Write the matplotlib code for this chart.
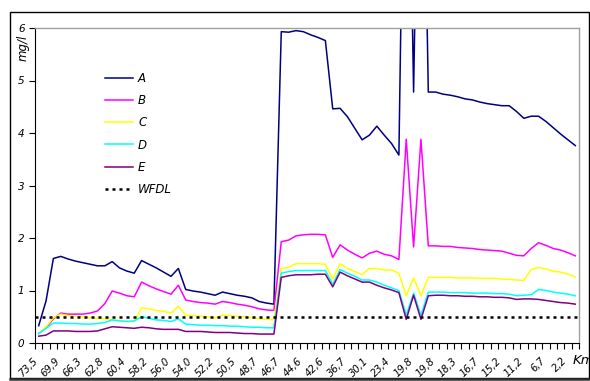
import matplotlib
matplotlib.use("Agg")
import matplotlib.pyplot as plt
from matplotlib.patches import Rectangle
from matplotlib.lines import Line2D
import matplotlib.transforms as mtransforms
import numpy as np

# ---- data ----
tick_labels = ["73,5", "69,9", "66,3", "62,8", "60,4", "58,2", "56,0", "54,0", "52,2",
               "50,5", "48,7", "46,7", "44,6", "42,6", "36,7", "30,1", "23,4", "19,8",
               "19,8", "18,3", "16,7", "15,2", "11,2", "6,7", "2,2"]

A = [0.33, 0.80, 1.61, 1.65, 1.60, 1.56, 1.53, 1.50, 1.47, 1.47, 1.55, 1.43, 1.37, 1.33,
     1.57, 1.50, 1.43, 1.35, 1.27, 1.42, 1.02, 0.99, 0.97, 0.94, 0.91, 0.97, 0.94, 0.91,
     0.89, 0.86, 0.79, 0.76, 0.74,
     5.93, 5.92, 5.95, 5.93, 5.87, 5.82, 5.76, 4.46, 4.47, 4.31, 4.09, 3.87, 3.96, 4.13,
     3.96, 3.80, 3.58, 13.0, 4.78, 13.0, 4.78, 4.78, 4.74, 4.72, 4.69, 4.65, 4.63, 4.59,
     4.56, 4.54, 4.52, 4.52, 4.41, 4.28, 4.32, 4.32, 4.22, 4.10, 3.98, 3.87, 3.76]

B = [0.18, 0.29, 0.46, 0.57, 0.55, 0.55, 0.55, 0.57, 0.61, 0.75, 0.99, 0.95, 0.90, 0.88,
     1.16, 1.09, 1.03, 0.98, 0.93, 1.10, 0.82, 0.79, 0.77, 0.76, 0.74, 0.79, 0.77, 0.74,
     0.72, 0.69, 0.65, 0.63, 0.62,
     1.93, 1.96, 2.04, 2.06, 2.07, 2.07, 2.06, 1.63, 1.87, 1.77, 1.69, 1.62, 1.71, 1.75,
     1.69, 1.66, 1.59, 3.88, 1.83, 3.88, 1.85, 1.85, 1.84, 1.84, 1.82, 1.81, 1.80, 1.78,
     1.77, 1.76, 1.75, 1.71, 1.67, 1.66, 1.80, 1.91, 1.86, 1.80, 1.77, 1.72, 1.66]

C = [0.18, 0.31, 0.48, 0.55, 0.52, 0.51, 0.50, 0.48, 0.47, 0.46, 0.44, 0.43, 0.41, 0.41,
     0.67, 0.65, 0.62, 0.60, 0.57, 0.70, 0.53, 0.52, 0.51, 0.50, 0.48, 0.53, 0.52, 0.51,
     0.50, 0.48, 0.46, 0.45, 0.44,
     1.42, 1.44, 1.51, 1.51, 1.51, 1.51, 1.50, 1.22, 1.51, 1.42, 1.36, 1.30, 1.42, 1.42,
     1.39, 1.39, 1.33, 0.90, 1.24, 0.90, 1.25, 1.25, 1.25, 1.25, 1.24, 1.24, 1.24, 1.23,
     1.23, 1.23, 1.22, 1.21, 1.20, 1.19, 1.40, 1.44, 1.41, 1.37, 1.35, 1.31, 1.26]

D = [0.18, 0.28, 0.38, 0.38, 0.37, 0.37, 0.36, 0.36, 0.37, 0.39, 0.44, 0.42, 0.41, 0.42,
     0.50, 0.47, 0.44, 0.43, 0.41, 0.46, 0.36, 0.35, 0.34, 0.34, 0.33, 0.33, 0.32, 0.32,
     0.31, 0.30, 0.30, 0.29, 0.29,
     1.33, 1.36, 1.38, 1.38, 1.38, 1.38, 1.38, 1.12, 1.40, 1.33, 1.27, 1.20, 1.20, 1.16,
     1.10, 1.05, 1.00, 0.53, 0.95, 0.53, 0.97, 0.97, 0.97, 0.96, 0.96, 0.96, 0.95, 0.95,
     0.95, 0.94, 0.94, 0.93, 0.90, 0.91, 0.92, 1.02, 1.00, 0.97, 0.95, 0.93, 0.90]

E = [0.13, 0.15, 0.23, 0.23, 0.23, 0.22, 0.22, 0.22, 0.23, 0.27, 0.31, 0.30, 0.29, 0.28,
     0.30, 0.29, 0.27, 0.26, 0.26, 0.26, 0.22, 0.22, 0.22, 0.21, 0.20, 0.20, 0.20, 0.19,
     0.18, 0.18, 0.17, 0.17, 0.17,
     1.25, 1.28, 1.30, 1.30, 1.30, 1.31, 1.31, 1.07, 1.35, 1.28, 1.22, 1.16, 1.16, 1.10,
     1.05, 1.01, 0.96, 0.45, 0.91, 0.45, 0.90, 0.91, 0.91, 0.90, 0.90, 0.89, 0.89, 0.88,
     0.88, 0.87, 0.87, 0.86, 0.83, 0.84, 0.84, 0.83, 0.81, 0.79, 0.77, 0.76, 0.74]

WFDL = 0.5

series_names = ["A", "B", "C", "D", "E"]
series_colors = ["#000080", "#FF00FF", "#FFFF00", "#00FFFF", "#800080"]

# ---- figure ----
W, H = 590, 381
fig = plt.figure(figsize=(W / 100, H / 100), dpi=100)
fig.patch.set_facecolor("white")

# outer chart border
fig.patches.append(Rectangle((10 / W, 1 - 378 / H), 579 / W, 366 / H,
                             transform=fig.transFigure, fill=False,
                             edgecolor="black", linewidth=1.0))
fig.add_artist(Line2D([10 / W, 1.0], [1 - 379 / H, 1 - 379 / H],
                      transform=fig.transFigure, color="#303030", linewidth=1.8))

ax = fig.add_axes([35 / W, 1 - 343 / H, (579 - 35) / W, (343 - 28) / H])
n = len(A)
x = np.arange(n)

for name, vals, col in zip(series_names, [A, B, C, D, E], series_colors):
    ax.plot(x, vals, color=col, linewidth=1.1, label=name, clip_on=True)

ax.plot([-0.5, n - 0.5], [WFDL, WFDL], color="black", linewidth=1.8,
        linestyle=(0, (1.2, 1.6)), label="WFDL")

ax.set_xlim(-0.5, n - 0.5)
ax.set_ylim(0, 6)

# spines
for s in ["top", "right"]:
    ax.spines[s].set_color("#A0A0A0")
    ax.spines[s].set_linewidth(1.0)
ax.spines["left"].set_color("black")
ax.spines["bottom"].set_color("black")

# y ticks
ax.set_yticks(range(0, 7))
ax.set_yticklabels([str(v) for v in range(0, 7)], fontstyle="italic", fontsize=7.5)
ax.tick_params(axis="y", direction="out", length=4, width=0.8, pad=3.5)

# x ticks: major at category boundaries, labels at every third category
ax.set_xticks(np.arange(-0.5, n, 1.0))
ax.set_xticklabels([])
ax.tick_params(axis="x", which="major", direction="out", length=4, width=0.8)
label_pos = list(range(0, n, 3))[:len(tick_labels)]
ax.set_xticks(label_pos, minor=True)
ax.set_xticklabels(tick_labels, minor=True, rotation=45, ha="right", va="top",
                   rotation_mode="anchor", fontstyle="italic", fontsize=7.2)
ax.tick_params(axis="x", which="minor", length=0, pad=9)
shift = mtransforms.ScaledTranslation(-6 / 100, 0, fig.dpi_scale_trans)
for lab in ax.get_xticklabels(minor=True):
    lab.set_transform(lab.get_transform() + shift)

# axis texts
fig.text(23 / W, 1 - 35 / H, "mg/l", rotation=90, fontstyle="italic", fontsize=8.5,
         ha="center", va="top")
fig.text(573 / W, 1 - 360 / H, "Km", fontstyle="italic", fontsize=9.5,
         ha="left", va="center")

leg = fig.legend(loc="upper left", bbox_to_anchor=(105 / W, 1 - 72 / H),
                 frameon=False, fontsize=8.5, handlelength=2.4, handletextpad=0.4,
                 labelspacing=0.78, borderpad=0, borderaxespad=0)
for t in leg.get_texts():
    t.set_fontstyle("italic")

fig.savefig("out.png", dpi=100, facecolor="white")
